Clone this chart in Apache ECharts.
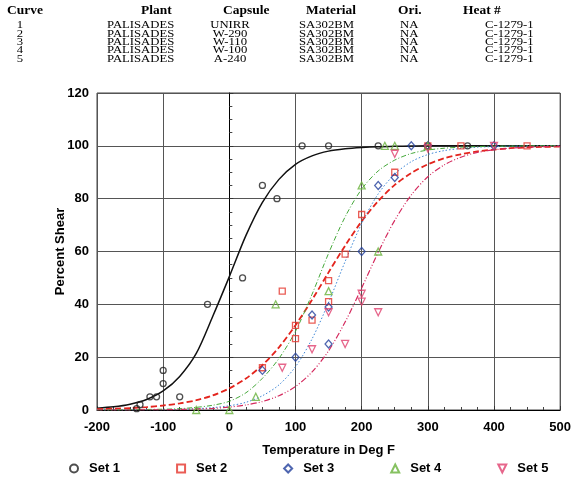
<!DOCTYPE html>
<html>
<head>
<meta charset="utf-8">
<script src="https://cdn.jsdelivr.net/npm/echarts@6/dist/echarts.min.js"></script>
<style>
html,body{margin:0;padding:0;background:#fff;}
#chart{width:574px;height:478px;}
</style>
</head>
<body>
<div id="chart"></div>
<script>
// ---- Header table ----
var tableHeaders = ['Curve', 'Plant', 'Capsule', 'Material', 'Ori.', 'Heat #'];
var curveNos = ['1', '2', '3', '4', '5'];
var plants = ['PALISADES', 'PALISADES', 'PALISADES', 'PALISADES', 'PALISADES'];
var capsules = ['UNIRR', 'W-290', 'W-110', 'W-100', 'A-240'];
var materials = ['SA302BM', 'SA302BM', 'SA302BM', 'SA302BM', 'SA302BM'];
var oris = ['NA', 'NA', 'NA', 'NA', 'NA'];
var heats = ['C-1279-1', 'C-1279-1', 'C-1279-1', 'C-1279-1', 'C-1279-1'];

// ---- Axes ----
var xTicks = [-200, -100, 0, 100, 200, 300, 400, 500];
var yTicks = [0, 20, 40, 60, 80, 100, 120];

// ---- Fitted curves (read at these temperatures) ----
var fitTemps = [-200, -175, -150, -125, -100, -75, -50, -25, 0, 25, 50, 75, 100, 125, 150, 175, 200, 225, 250, 275, 300, 325, 350, 375, 400, 425, 450, 475, 500];
var fit1 = [0.7, 1.2, 2.2, 4.0, 7.2, 12.7, 21.4, 35.5, 50.5, 66.0, 78.6, 87.3, 93.0, 96.2, 98.0, 98.9, 99.4, 99.7, 99.8, 99.9, 100, 100, 100, 100, 100, 100, 100, 100, 100];
var fit2 = [0.3, 0.5, 0.7, 1.1, 1.7, 2.5, 3.7, 5.5, 8.2, 11.9, 17.0, 23.7, 32.1, 41.7, 52.1, 62.2, 71.4, 79.1, 85.2, 89.7, 93.0, 95.3, 96.8, 97.9, 98.6, 99.1, 99.4, 99.6, 99.7];
var fit3 = [0, 0, 0, 0.1, 0.1, 0.2, 0.5, 0.9, 1.6, 2.9, 5.4, 9.5, 16.4, 26.9, 40.7, 56.2, 70.6, 81.8, 89.3, 94.0, 96.7, 98.2, 99.0, 99.5, 99.7, 99.9, 99.9, 100, 100];
var fit4 = [0, 0, 0.1, 0.2, 0.3, 0.5, 1.0, 1.8, 3.3, 6.5, 12.0, 19.5, 29.8, 43.8, 59.3, 73.1, 83.6, 90.5, 94.6, 97.1, 98.4, 99.1, 99.5, 99.7, 99.9, 99.9, 100, 100, 100];
var fit5 = [0, 0, 0, 0.1, 0.1, 0.2, 0.4, 0.6, 1.1, 1.9, 3.2, 5.4, 8.9, 14.4, 22.4, 33.3, 46.2, 59.7, 71.8, 81.4, 88.3, 92.8, 95.7, 97.5, 98.5, 99.1, 99.5, 99.7, 99.8];

// ---- Measured points ----
var set1T = [-140, -135, -120, -110, -100, -100, -75, -33, 20, 50, 72, 110, 150, 225, 300, 360];
var set1Y = [0.5, 2, 5, 5, 10, 15, 5, 40, 50, 85, 80, 100, 100, 100, 100, 100];
var set2T = [50, 80, 100, 100, 125, 150, 150, 175, 200, 250, 300, 350, 450];
var set2Y = [16, 45, 32, 27, 34, 49, 41, 59, 74, 90, 100, 100, 100];
var set3T = [50, 100, 125, 150, 150, 200, 225, 250, 275, 300, 400];
var set3Y = [15, 20, 36, 39, 25, 60, 85, 88, 100, 100, 100];
var set4T = [-50, 0, 40, 70, 150, 200, 225, 235, 250, 300];
var set4Y = [0, 0, 5, 40, 45, 85, 60, 100, 100, 100];
var set5T = [80, 125, 150, 175, 200, 200, 225, 250, 300, 400];
var set5Y = [16, 23, 37, 25, 44, 41, 37, 97, 99, 100];

var setNames = ['Set 1', 'Set 2', 'Set 3', 'Set 4', 'Set 5'];

function pairs(xs, ys) { return xs.map(function (x, i) { return [x, ys[i]]; }); }

var chart = echarts.init(document.getElementById('chart'), null, {renderer: 'canvas'});

// header graphics
var serif = "'Liberation Serif','Times New Roman',serif";
var graphics = [];
var headX = [7, 141, 223, 306, 398, 463];
tableHeaders.forEach(function (h, i) {
  graphics.push({type: 'text', x: headX[i], y: 11, scaleX: 1.17, style: {text: h, x: 0, y: 0, font: 'bold 11.5px ' + serif, fill: '#000', align: 'left', verticalAlign: 'middle'}});
});
var cols = [
  {vals: curveNos, x: 20, align: 'center'},
  {vals: plants, x: 107, align: 'left'},
  {vals: capsules, x: 230, align: 'center'},
  {vals: materials, x: 299, align: 'left'},
  {vals: oris, x: 400, align: 'left'},
  {vals: heats, x: 485, align: 'left'}
];
cols.forEach(function (c) {
  c.vals.forEach(function (v, r) {
    graphics.push({type: 'text', x: c.x, y: 25.5 + r * 8.4, scaleX: 1.27, style: {text: v, x: 0, y: 0, font: '10px ' + serif, fill: '#000', align: c.align, verticalAlign: 'middle'}});
  });
});

var sans = "'Liberation Sans', Arial, sans-serif";
var lineSeries = [
  {data: fit1, color: '#111111', type: 'solid', width: 1.5},
  {data: fit2, color: '#e3241d', type: [6, 3], width: 1.8},
  {data: fit3, color: '#3d86d6', type: [1.5, 2], width: 1},
  {data: fit4, color: '#45a83a', type: [5, 2, 1, 2], width: 1},
  {data: fit5, color: '#d42a5e', type: [6, 2, 1, 2, 1, 2], width: 1.2}
].map(function (f, i) {
  return {
    type: 'line', name: 'fit' + (i + 1), data: pairs(fitTemps, f.data), smooth: 0.3,
    showSymbol: false, symbol: 'none', silent: true, z: 2,
    lineStyle: {color: f.color, type: f.type, width: f.width}
  };
});

var marks = [
  {x: set1T, y: set1Y, color: '#222222', symbol: 'circle', size: 6},
  {x: set2T, y: set2Y, color: '#e5342c', symbol: 'rect', size: 6},
  {x: set3T, y: set3Y, color: '#23409c', symbol: 'diamond', size: [7, 8]},
  {x: set4T, y: set4Y, color: '#68b23a', symbol: 'triangle', size: 7},
  {x: set5T, y: set5Y, color: '#e0406e', symbol: 'path://M0,0 L10,0 L5,10 Z', size: 7}
];
var scatterSeries = marks.map(function (m, i) {
  return {
    type: 'scatter', name: setNames[i], data: pairs(m.x, m.y), symbol: m.symbol, symbolSize: m.size, z: 3,
    itemStyle: {color: 'rgba(255,255,255,0)', borderColor: m.color, borderWidth: 1.3}
  };
});

chart.setOption({
  animation: false,
  backgroundColor: '#fff',
  graphic: graphics,
  grid: {left: 97, right: 11, top: 93, bottom: 68, show: true, borderColor: '#444', borderWidth: 1},
  legend: {
    data: setNames, left: 64, top: 457, itemWidth: 8, itemHeight: 8, itemGap: 56, selectedMode: false,
    textStyle: {fontSize: 13, fontWeight: 'bold', color: '#000', fontFamily: sans, padding: [0, 0, 0, 6]}
  },
  xAxis: {
    type: 'value', min: xTicks[0], max: xTicks[xTicks.length - 1], interval: 100,
    name: 'Temperature in Deg F', nameLocation: 'middle', nameGap: 34, nameMoveOverlap: false,
    nameTextStyle: {fontSize: 13, fontWeight: 'bold', color: '#000', fontFamily: sans},
    axisLine: {lineStyle: {color: '#000', width: 1}},
    axisTick: {inside: true, length: 4, lineStyle: {color: '#333'}},
    minorTick: {show: true, splitNumber: 4, length: 3, lineStyle: {color: '#444'}},
    splitLine: {show: true, lineStyle: {color: '#555', width: 1}},
    axisLabel: {fontSize: 13, fontWeight: 'bold', color: '#000', fontFamily: sans, margin: 11}
  },
  yAxis: {
    type: 'value', min: yTicks[0], max: yTicks[yTicks.length - 1], interval: 20,
    name: 'Percent Shear', nameLocation: 'middle', nameGap: 30, nameMoveOverlap: false,
    nameTextStyle: {fontSize: 13, fontWeight: 'bold', color: '#000', fontFamily: sans},
    axisLine: {show: true, lineStyle: {color: '#000', width: 1}},
    axisTick: {inside: true, length: 4, lineStyle: {color: '#333'}},
    minorTick: {show: true, splitNumber: 4, length: 3, lineStyle: {color: '#444'}},
    splitLine: {show: true, lineStyle: {color: '#555', width: 1}},
    axisLabel: {fontSize: 13, fontWeight: 'bold', color: '#000', fontFamily: sans, margin: 8}
  },
  series: lineSeries.concat(scatterSeries)
});
</script>
</body>
</html>
